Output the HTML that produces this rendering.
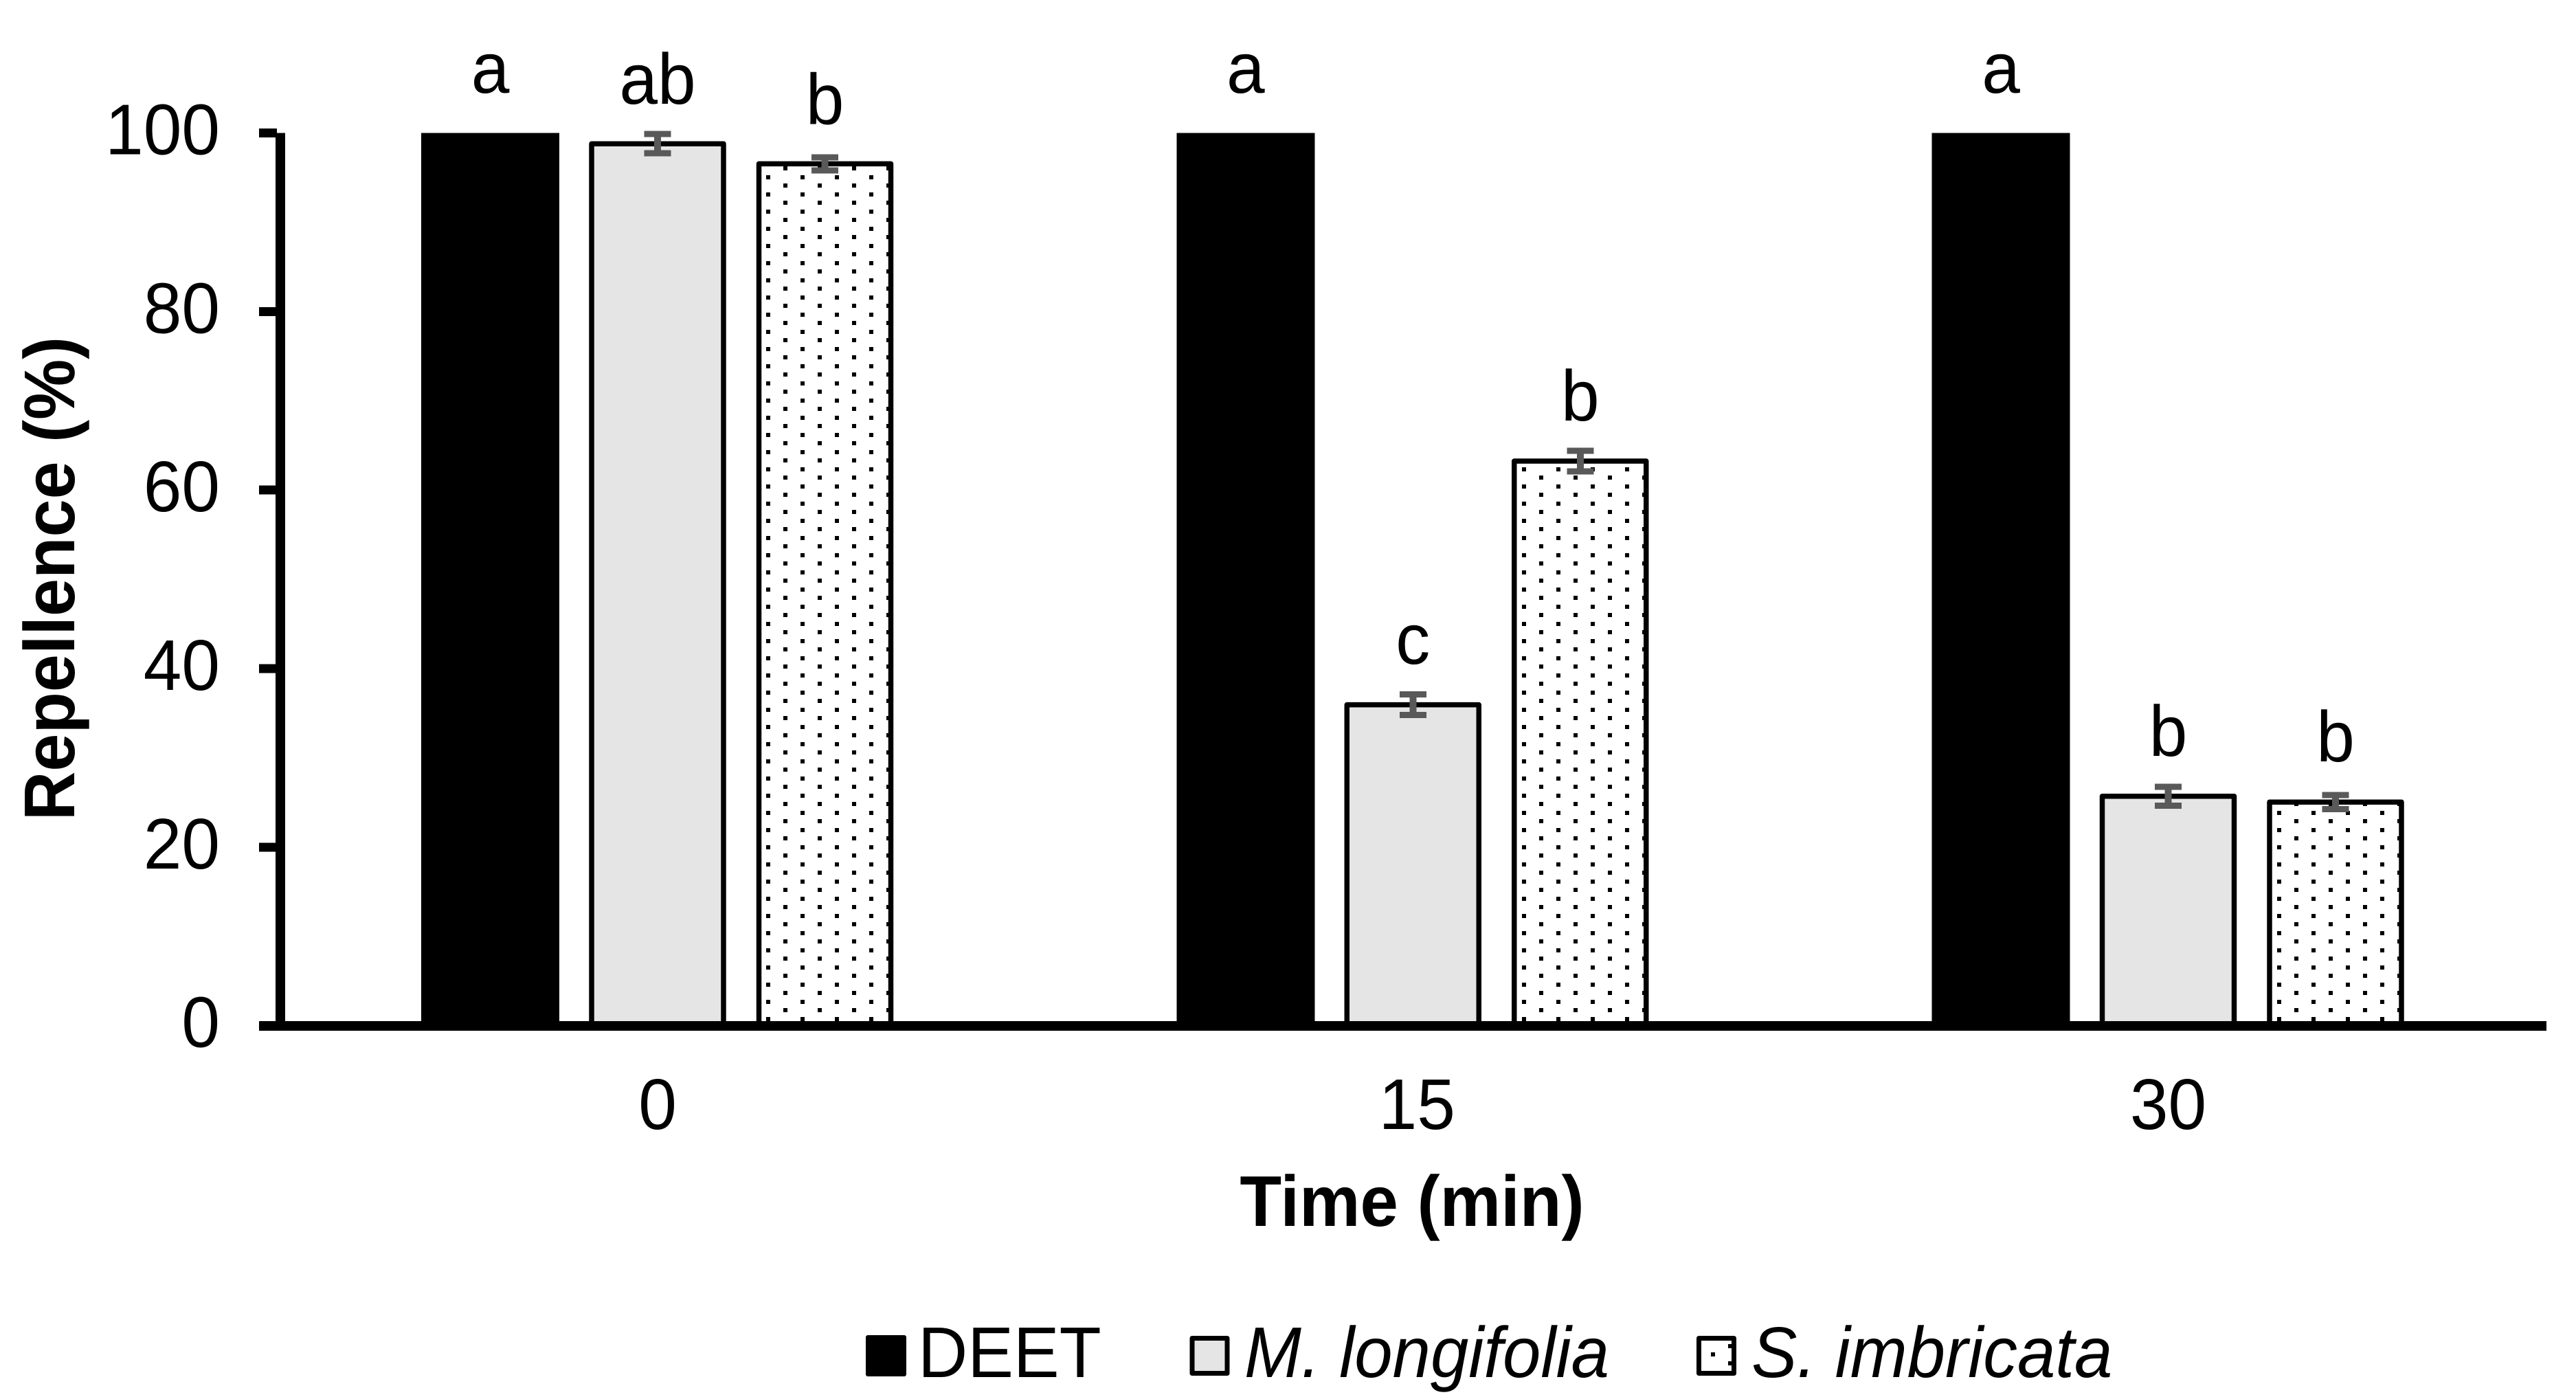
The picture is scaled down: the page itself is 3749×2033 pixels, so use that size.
<!DOCTYPE html>
<html lang="en">
<head>
<meta charset="utf-8">
<title>Repellence over time</title>
<style>
html,body{margin:0;padding:0;background:#fff;}
svg{display:block;}
text{font-family:"Liberation Sans",Arial,sans-serif;font-size:100px;fill:#000;text-rendering:geometricPrecision;}
</style>
</head>
<body>
<svg id="chart" xmlns="http://www.w3.org/2000/svg" width="3749" height="2033" viewBox="0 0 3749 2033">
  <rect x="0" y="0" width="3749" height="2033" fill="#ffffff"/>
  <g id="bars"></g>
  <g id="errors"></g>
  <g id="letters"></g>
  <g id="axes"></g>
  <text text-anchor="middle" style="font-weight:700" transform="translate(108,842) rotate(-90) scale(0.99,1.045)">Repellence (%)</text>
  <text text-anchor="middle" style="font-weight:700" transform="translate(2055,1784) scale(0.995,1.045)">Time (min)</text>
  <g>
    <g>
      <rect x="1260" y="1943" width="59" height="60" rx="3" fill="#000"/>
      <text text-anchor="start" transform="translate(1336,2004) scale(1,1.045)">DEET</text>
    </g>
    <g>
      <rect x="1735" y="1947.5" width="51" height="51" fill="#e5e5e5" stroke="#000" stroke-width="7" stroke-linejoin="round"/>
      <text text-anchor="start" style="font-style:italic" transform="translate(1811,2004) scale(0.995,1.045)">M. longifolia</text>
    </g>
    <g>
      <rect x="2472.5" y="1947.5" width="51" height="51" fill="#fff"/>
      <rect x="2490" y="1968" width="6" height="6" fill="#000"/>
      <rect x="2515" y="1956" width="6" height="6" fill="#000"/>
      <rect x="2515" y="1981" width="6" height="6" fill="#000"/>
      <rect x="2472.5" y="1947.5" width="51" height="51" fill="none" stroke="#000" stroke-width="7" stroke-linejoin="round"/>
      <text text-anchor="start" style="font-style:italic" transform="translate(2549,2004) scale(0.995,1.045)">S. imbricata</text>
    </g>
  </g>
  <defs id="defs"></defs>
</svg>
<script>
const categories = ['0', '15', '30'];
const yTicks = [0, 20, 40, 60, 80, 100];
const deetValues = [100, 100, 100];
const longifoliaValues = [98.8, 35.95, 25.7];
const imbricataValues = [96.55, 63.25, 25.05];
const longifoliaErrors = [1.08, 1.16, 1.04];
const imbricataErrors = [0.72, 1.16, 0.8];
const deetLetters = ['a', 'a', 'a'];
const longifoliaLetters = ['ab', 'c', 'b'];
const imbricataLetters = ['b', 'b', 'b'];
const deetLetterLift = [4.51, 4.51, 4.51];
const longifoliaLetterLift = [3.4, 3.43, 3.48];
const imbricataLetterLift = [3.75, 3.38, 3.76];

const NS = 'http://www.w3.org/2000/svg';
function yScale(v) { return 1492.6 - 12.99 * v; }
function xScale(i) { return 957 + 1099.25 * i; }
const seriesOffset = 243.5;
// Liberation's "1" sits further left than the reference face, so the "15" label is nudged.
function xLabelNudge(label) { return label.charAt(0) === '1' ? 6 : 0; }

function make(parent, tag, attrs) {
  const el = document.createElementNS(NS, tag);
  for (const k in attrs) el.setAttribute(k, attrs[k]);
  parent.appendChild(el);
  return el;
}

const defs = document.getElementById('defs');
const barsG = document.getElementById('bars');
const errorsG = document.getElementById('errors');
const lettersG = document.getElementById('letters');
const axesG = document.getElementById('axes');

function addLetter(text, cx, value, lift) {
  const el = make(lettersG, 'text', {
    'text-anchor': 'middle',
    transform: 'translate(' + cx + ',' + (yScale(value + lift)) + ') scale(1,1.045)'
  });
  
  
  el.textContent = text;
}

function addError(cx, mean, err) {
  const top = yScale(mean + err);
  const bottom = yScale(mean - err);
  const g = make(errorsG, 'g', { fill: '#595959', 'shape-rendering': 'crispEdges' });
  
  
  const stem = make(g, 'rect', { x: cx - 5, y: top, width: 10, height: bottom - top });
  
  
  const capTop = make(g, 'rect', { x: cx - 19.5, y: top - 4.5, width: 39, height: 9 });
  
  
  const capBottom = make(g, 'rect', { x: cx - 19.5, y: bottom - 4.5, width: 39, height: 9 });
  
  
}

categories.forEach(function (cat, i) {
  const c = xScale(i);
  const base = yScale(0);

  // DEET
  const dx = c - seriesOffset;
  const dTop = yScale(deetValues[i]);
  const deetBar = make(barsG, 'rect', { x: dx - 100.5, y: dTop, width: 201, height: base - dTop, fill: '#000', 'shape-rendering': 'crispEdges' });
  
  
  addLetter(deetLetters[i], dx, deetValues[i], deetLetterLift[i]);

  // M. longifolia
  const lTop = yScale(longifoliaValues[i]);
  const longBar = make(barsG, 'rect', { x: c - 96, y: lTop, width: 192, height: base - lTop, fill: '#e5e5e5', stroke: '#000', 'stroke-width': 7.5, 'stroke-linejoin': 'round' });
  
  
  addError(c, longifoliaValues[i], longifoliaErrors[i]);
  addLetter(longifoliaLetters[i], c, longifoliaValues[i] + longifoliaErrors[i], longifoliaLetterLift[i]);

  // S. imbricata
  const sx = c + seriesOffset;
  const sTop = yScale(imbricataValues[i]);
  const pid = 'dots' + i;
  const pat = make(defs, 'pattern', { id: pid, patternUnits: 'userSpaceOnUse', width: 50, height: 25, patternTransform: 'translate(' + Math.round(sx - 85.2) + ',5)' });
  make(pat, 'rect', { x: 0, y: 0, width: 50, height: 25, fill: '#fff' });
  make(pat, 'rect', { x: 0, y: 0, width: 6, height: 6, fill: '#000' });
  make(pat, 'rect', { x: 25, y: 12, width: 6, height: 6, fill: '#000' });
  const imbBar = make(barsG, 'rect', { x: sx - 96, y: sTop, width: 192, height: base - sTop, fill: 'url(#' + pid + ')', stroke: '#000', 'stroke-width': 7.5, 'stroke-linejoin': 'round' });
  
  
  addError(sx, imbricataValues[i], imbricataErrors[i]);
  addLetter(imbricataLetters[i], sx, imbricataValues[i] + imbricataErrors[i], imbricataLetterLift[i]);

  // category label
  const lab = make(axesG, 'text', { 'text-anchor': 'middle', transform: 'translate(' + (c + xLabelNudge(cat)) + ',1643) scale(1,1.045)' });
  
  
  lab.textContent = cat;
});

const yAxis = make(axesG, 'rect', { x: 401, y: yScale(100), width: 14, height: yScale(0) - yScale(100) + 7, fill: '#000', 'shape-rendering': 'crispEdges' });


const xAxis = make(axesG, 'rect', { x: 377, y: 1486, width: 3329, height: 14, fill: '#000', 'shape-rendering': 'crispEdges' });



yTicks.forEach(function (t) {
  const y = yScale(t);
  const tick = make(axesG, 'rect', { x: 377, y: y - 6.5, width: 26, height: 13, fill: '#000', 'shape-rendering': 'crispEdges' });
  
  
  const lab = make(axesG, 'text', { 'text-anchor': 'end', transform: 'translate(320,' + (y + 31) + ') scale(1,1.045)' });
  
  
  lab.textContent = String(t);
});
</script>
</body>
</html>
